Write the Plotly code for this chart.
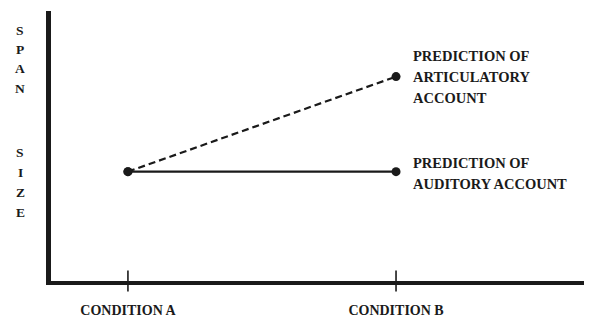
import plotly.graph_objects as go

# ---- data ----
conditions = ["CONDITION A", "CONDITION B"]
x_pos = [0, 1]
auditory = [4.05, 4.05]
articulatory = [4.05, 7.57]
auditory_label = ["PREDICTION OF", "AUDITORY ACCOUNT"]
articulatory_label = ["PREDICTION OF", "ARTICULATORY", "ACCOUNT"]
y_label_top = list("SPAN")
y_label_bottom = list("SIZE")

SERIF = "Liberation Serif, Times New Roman, serif"
INK = "#1a1a1a"

# page body has an 8px default margin, so the figure is 8px smaller
W, H = 584, 309
L, R, T, B = 43, 0, 3, 36
PW, PH = W - L - R, H - T - B
OFF = 8  # offset of the figure within the page


def px_to_paper(px, py):
    fx, fy = px - OFF, py - OFF
    return (fx - L) / PW, 1 - (fy - T) / PH


fig = go.Figure()

# articulatory (dashed)
fig.add_trace(go.Scatter(
    x=x_pos, y=articulatory, mode="lines+markers",
    line=dict(color=INK, width=2.2, dash="7px,4px"),
    marker=dict(size=9, color=INK), showlegend=False, cliponaxis=False))
# auditory (solid)
fig.add_trace(go.Scatter(
    x=x_pos, y=auditory, mode="lines+markers",
    line=dict(color=INK, width=2.2),
    marker=dict(size=9, color=INK), showlegend=False, cliponaxis=False))
# tick marks crossing the x axis
fig.add_trace(go.Scatter(
    x=x_pos, y=[0, 0], mode="markers",
    marker=dict(symbol="line-ns", size=15, line=dict(color=INK, width=1.6)),
    showlegend=False, cliponaxis=False, hoverinfo="skip"))

fig.update_xaxes(
    range=[-0.287, 1.731], showgrid=False, zeroline=False, automargin=False,
    showline=True, linecolor=INK, linewidth=4,
    tickmode="array", tickvals=x_pos, ticktext=["<b>" + c + "</b>" for c in conditions],
    ticks="", tickfont=dict(family=SERIF, size=14, color=INK), ticklabelstandoff=13)
fig.update_yaxes(
    range=[0, 10], showgrid=False, zeroline=False, automargin=False,
    showline=True, linecolor=INK, linewidth=5, showticklabels=False, ticks="")

# y-axis stacked letters
letter_rows = [(ch, 30 + 19.5 * i) for i, ch in enumerate(y_label_top)] + \
              [(ch, 152 + 20 * i) for i, ch in enumerate(y_label_bottom)]
for ch, py in letter_rows:
    ax, ay = px_to_paper(20, py)
    fig.add_annotation(x=ax, y=ay, xref="paper", yref="paper",
                       text="<b>" + ch + "</b>", showarrow=False,
                       xanchor="center", yanchor="middle",
                       font=dict(family=SERIF, size=13.5, color=INK))

# series labels next to the condition-B points
for i, line in enumerate(articulatory_label):
    fig.add_annotation(x=x_pos[1], y=articulatory[1], xref="x", yref="y",
                       text="<b>" + line + "</b>", showarrow=False,
                       xanchor="left", yanchor="middle", xshift=15, yshift=21 - 21 * i,
                       font=dict(family=SERIF, size=14.5, color=INK))
for i, line in enumerate(auditory_label):
    fig.add_annotation(x=x_pos[1], y=auditory[1], xref="x", yref="y",
                       text="<b>" + line + "</b>", showarrow=False,
                       xanchor="left", yanchor="middle", xshift=15, yshift=9 - 21 * i,
                       font=dict(family=SERIF, size=14.5, color=INK))

fig.update_layout(
    width=W, height=H,
    margin=dict(l=L, r=R, t=T, b=B, autoexpand=False),
    paper_bgcolor="white", plot_bgcolor="white",
    font=dict(family=SERIF, color=INK),
)

fig.write_html("out.html")
